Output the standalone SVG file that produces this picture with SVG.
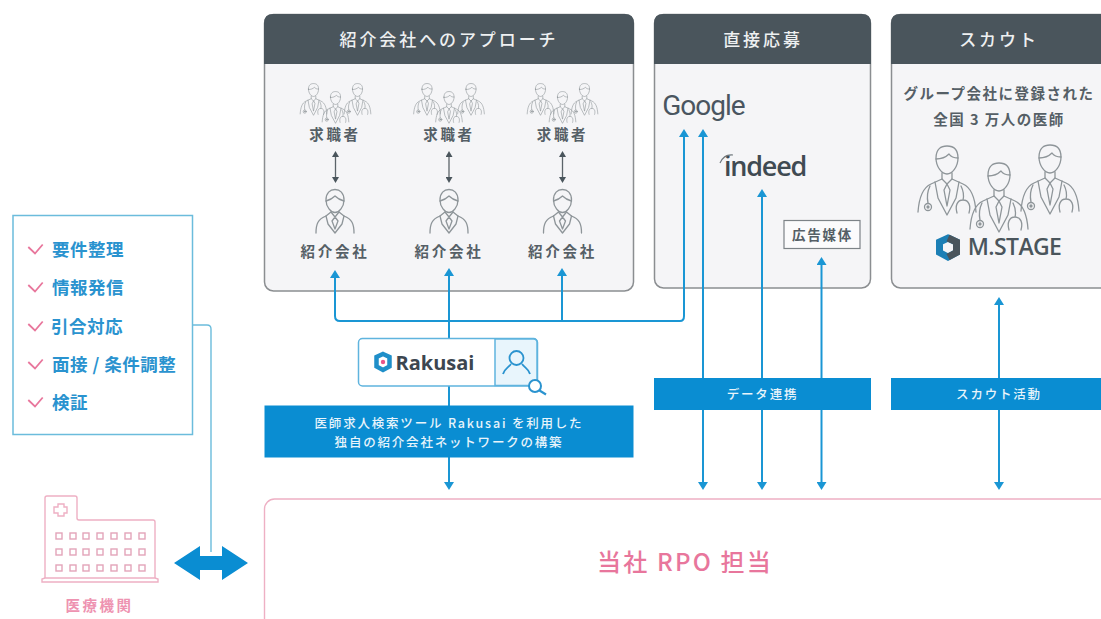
<svg xmlns="http://www.w3.org/2000/svg" xmlns:xlink="http://www.w3.org/1999/xlink" width="1101" height="619" viewBox="0 0 1101 619">
<style>
text{font-family:"Noto Sans CJK JP","Noto Sans",sans-serif;text-anchor:middle}
.body{fill:#f5f5f7;stroke:#8b8e91;stroke-width:1.5}
.head{fill:#4a555c}
.ht{fill:#eef0f1;font-size:17px;letter-spacing:2.9px;font-weight:500}
.lb{fill:#555f66;font-size:14.5px;letter-spacing:2.7px;font-weight:700}
.band{fill:#0a8dd2}
.bt{fill:#e8f4fb;font-size:12.5px;letter-spacing:1.8px;font-weight:500}
.blue{fill:none;stroke:#1a96d4;stroke-width:2}
.gray{fill:none;stroke:#5b6369;stroke-width:1.3}
.ic{fill:none;stroke:#8e9599;stroke-width:1.3;stroke-linejoin:round;stroke-linecap:round}
.chk{fill:none;stroke:#e8769c;stroke-width:1.8}
.li{fill:#2a93cf;font-size:17.5px;letter-spacing:.5px;font-weight:700;text-anchor:start}
.win{fill:none;stroke:#e3a4b9;stroke-width:1.4}
.pk{fill:none;stroke:#eeb0c4;stroke-width:1.4}
</style>
<defs>
<marker id="ab" viewBox="0 0 8 10" refX="1" refY="5" markerWidth="8" markerHeight="10" markerUnits="userSpaceOnUse" orient="auto-start-reverse"><path d="M0,0L8,5L0,10Z" fill="#1a96d4"/></marker>
<marker id="ag" viewBox="0 0 6 7" refX="1" refY="3.5" markerWidth="6" markerHeight="7" markerUnits="userSpaceOnUse" orient="auto-start-reverse"><path d="M0,0L6,3.5L0,7Z" fill="#4a555c"/></marker>
<g id="doc">
<path d="M-11,-2C-11,-11-6,-14 0,-14C6,-14 11,-11 11,-2C11,7 5,14 0,14C-5,14-11,7-11,-2Z"/>
<path d="M-11,-1C-5,-1-1,-3 2,-6C4,-3 7,-2 11,-2"/>
<path d="M-29,52C-28,38-25,28-16,24L-5,19M5,19L16,24C25,28 28,38 29,52"/>
<path d="M-5,13V19L0,24L5,19V13"/>
<path d="M-12,22L-9,38L0,55L9,38L12,22M0,24L-3,30L0,46L3,30Z"/>
<path d="M-17,26C-20,32-20,38-19,43"/><circle cx="-19" cy="47" r="3.5"/><circle cx="-19" cy="47" r="1" fill="#8e9599"/>
<path d="M14,26C17,32 17,36 16,40M10,53C8,46 10,40 16,40C22,40 24,46 22,53"/>
</g>
<g id="group">
<use xlink:href="#doc" transform="translate(-22,-8) scale(.46)"/>
<use xlink:href="#doc" transform="translate(22,-8) scale(.46)"/>
<use xlink:href="#doc" transform="scale(.46)"/>
</g>
<g id="agent">
<path d="M-9,-1C-9,-8-5,-11.500 0,-11.500C5,-11.500 9,-8 9,-1C9,6 4,11.500 0,11.500C-4,11.500-9,6-9,-1Z"/>
<path d="M-9,0C-5,-1-2,-3 0,-5C2,-3 5,-1 9,0"/>
<path d="M-19,32C-19,23-17,18-9,15L-4,11M4,11L9,15C17,18 19,23 19,32"/>
<path d="M-9,15L-7,23L0,32L7,23L9,15M-4,11L0,16L4,11M0,16L-3,20L0,28L3,20Z"/>
</g>
</defs>
<rect width="1101" height="619" fill="#fff"/>

<g id="card-agency">
<rect class="body" x="264.500" y="14.500" width="369" height="276.500" rx="9"/>
<path class="head" d="M264,64V23Q264,14 273,14H625Q634,14 634,23V64Z"/>
<text class="ht" x="449" y="46">紹介会社へのアプローチ</text>
<g class="ic">
<use xlink:href="#group" x="335.500" y="98"/><use xlink:href="#group" x="449" y="98"/><use xlink:href="#group" x="562.500" y="98"/>
<use xlink:href="#agent" x="335" y="201"/><use xlink:href="#agent" x="449" y="201"/><use xlink:href="#agent" x="562.500" y="201"/>
</g>
<text class="lb" x="335" y="140">求職者</text><text class="lb" x="449" y="140">求職者</text><text class="lb" x="562.500" y="140">求職者</text>
<text class="lb" x="335" y="257">紹介会社</text><text class="lb" x="449" y="257">紹介会社</text><text class="lb" x="562.500" y="257">紹介会社</text>
</g>

<g id="card-direct">
<rect class="body" x="654.500" y="14.500" width="216" height="273.500" rx="9"/>
<path class="head" d="M654,64V23Q654,14 663,14H862Q871,14 871,23V64Z"/>
<text class="ht" x="763" y="46">直接応募</text>
<text x="703.500" y="115" style="font-family:Roboto,sans-serif;font-size:28px;letter-spacing:-1px" fill="#4a5560">Google</text>
<text x="765" y="176" style="font-family:'Open Sans',sans-serif;font-size:27px;font-weight:600;letter-spacing:-1.200px" fill="#3f4a52">indeed</text>
<path fill="none" stroke="#6f777c" stroke-width="1.2" d="M720,163Q724,154 733,155"/>
<rect x="784" y="220.500" width="76" height="28" fill="#fbfbfc" stroke="#7d8387" stroke-width="1.2"/>
<text x="822.500" y="240" style="font-size:13.500px;letter-spacing:1.700px;font-weight:700" fill="#555f66">広告媒体</text>
</g>

<g id="card-scout">
<rect class="body" x="891.500" y="14.500" width="230" height="273.500" rx="9"/>
<path class="head" d="M891,64V23Q891,14 900,14H1110V64Z"/>
<text class="ht" x="999" y="46">スカウト</text>
<text class="lb" x="999" y="99" style="letter-spacing:1.500px">グループ会社に登録された</text>
<text class="lb" x="999" y="125" style="letter-spacing:1.500px">全国 3 万人の医師</text>
<g class="ic">
<use xlink:href="#doc" x="947" y="160"/><use xlink:href="#doc" x="1050" y="159"/><use xlink:href="#doc" x="999" y="177"/>
</g>
<path fill="none" stroke="#1c7fb5" stroke-width="7" d="M948,238L956.500,242V252.500L948,257L939.500,252.500V242Z"/>
<path fill="none" stroke="#4a555c" stroke-width="7" d="M948,238L956.500,242V252.500L948,257"/>
<text x="1014.500" y="255" style="font-family:'Open Sans',sans-serif;font-size:23px;font-weight:600;letter-spacing:-.6px" fill="#4a555c">M.STAGE</text>
</g>

<g id="connectors">
<path class="blue" marker-start="url(#ab)" marker-end="url(#ab)" d="M335,277V316Q335,321 340,321H680Q684,321 684,316V136"/>
<path class="blue" marker-end="url(#ab)" d="M449,340V275"/>
<path class="blue" marker-end="url(#ab)" d="M562,321V275"/>
<path class="blue" marker-end="url(#ab)" d="M449,386V483"/>
<path class="blue" marker-start="url(#ab)" marker-end="url(#ab)" d="M703,136V483"/>
<path class="blue" marker-start="url(#ab)" marker-end="url(#ab)" d="M762,196V483"/>
<path class="blue" marker-start="url(#ab)" marker-end="url(#ab)" d="M821.500,264V483"/>
<path class="blue" marker-start="url(#ab)" marker-end="url(#ab)" d="M999,304V483"/>
<path fill="none" stroke="#6bbcdc" stroke-width="1.4" d="M192,325H207Q211,325 211,329V552"/>
<path fill="#0a8dd2" d="M174,563L200,546V556H222V546L248,563L222,580V570H200V580Z"/>
<path class="gray" marker-start="url(#ag)" marker-end="url(#ag)" d="M335.500,156V178"/>
<path class="gray" marker-start="url(#ag)" marker-end="url(#ag)" d="M449,156V178"/>
<path class="gray" marker-start="url(#ag)" marker-end="url(#ag)" d="M562.500,156V178"/>
</g>

<g id="node-rakusai">
<rect x="358.500" y="338.500" width="179" height="47.500" rx="4" fill="#fff" stroke="#5fb4de" stroke-width="1.500"/>
<path d="M495,339H533.500Q537,339 537,342.500V382.500Q537,385.500 533.500,385.500H495Z" fill="#e8f5fc" stroke="#5fb4de" stroke-width="1.500"/>
<path fill="none" stroke="#1f8fc9" stroke-width="4.500" d="M383,354L389.500,357V366.500L383,370L376.500,366.500V357Z"/>
<circle cx="383" cy="362" r="2.200" fill="#e8558a"/>
<text x="435" y="369.500" style="font-family:'Open Sans',sans-serif;font-size:20px;font-weight:700" fill="#3c4650">Rakusai</text>
<circle cx="516.500" cy="358" r="7" fill="none" stroke="#2a93cf" stroke-width="1.800"/>
<path fill="none" stroke="#2a93cf" stroke-width="1.800" d="M503,374C504,369 508,368 511,364M530,374C529,369 525,368 522,364"/>
<circle cx="535" cy="386" r="6" fill="#fff" stroke="#2a93cf" stroke-width="2"/>
<path fill="none" stroke="#2a93cf" stroke-width="2.200" d="M539.500,390.500L546,394.500"/>
</g>

<g id="band-network">
<rect class="band" x="264.500" y="405.500" width="369" height="52"/>
<text class="bt" x="449" y="428">医師求人検索ツール Rakusai を利用した</text>
<text class="bt" x="449" y="447">独自の紹介会社ネットワークの構築</text>
</g>
<g id="band-data">
<rect class="band" x="654" y="378" width="217" height="32"/>
<text class="bt" x="762.500" y="398.500">データ連携</text>
</g>
<g id="band-scout">
<rect class="band" x="891" y="378" width="210" height="32"/>
<text class="bt" x="999" y="398.500">スカウト活動</text>
</g>

<g id="node-rpo">
<rect x="264.500" y="499" width="900" height="200" rx="10" fill="#fff" stroke="#eeb0c4" stroke-width="1.400"/>
<text x="685" y="571" style="font-size:24px;letter-spacing:2.200px;font-weight:500" fill="#e8769c">当社 RPO 担当</text>
</g>

<g id="node-tasks">
<rect x="13" y="215.500" width="179.500" height="219" fill="#fff" stroke="#6bbcdc" stroke-width="1.500"/>
<path class="chk" d="M28.300,247L35,253.500L42.700,244.500"/><text class="li" x="52" y="256">要件整理</text>
<path class="chk" d="M28.300,285L35,291.500L42.700,282.500"/><text class="li" x="52" y="294">情報発信</text>
<path class="chk" d="M28.300,324L35,330.500L42.700,321.500"/><text class="li" x="51" y="333">引合対応</text>
<path class="chk" d="M28.300,362L35,368.500L42.700,359.500"/><text class="li" x="52" y="371">面接 / 条件調整</text>
<path class="chk" d="M28.300,400L35,406.500L42.700,397.500"/><text class="li" x="52" y="409">検証</text>
</g>

<g id="node-hospital">
<path class="pk" d="M45,578V498Q45,496 47,496H75Q77,496 77,498V518Q77,520 79,520H153Q155,520 155,522V578"/>
<path class="pk" d="M42,579V582H158V579L155,578H45Z"/>
<path class="pk" d="M58,504H64V507H67V513H64V516H58V513H54V507H58Z"/>
<g class="win">
<rect x="56" y="533" width="6" height="6"/><rect x="70" y="533" width="6" height="6"/><rect x="83" y="533" width="6" height="6"/><rect x="97" y="533" width="6" height="6"/><rect x="111" y="533" width="6" height="6"/><rect x="125" y="533" width="6" height="6"/><rect x="139" y="533" width="6" height="6"/>
<rect x="56" y="549" width="6" height="6"/><rect x="70" y="549" width="6" height="6"/><rect x="83" y="549" width="6" height="6"/><rect x="97" y="549" width="6" height="6"/><rect x="111" y="549" width="6" height="6"/><rect x="125" y="549" width="6" height="6"/><rect x="139" y="549" width="6" height="6"/>
<rect x="56" y="565" width="6" height="6"/><rect x="70" y="565" width="6" height="6"/><rect x="83" y="565" width="6" height="6"/><rect x="97" y="565" width="6" height="6"/><rect x="111" y="565" width="6" height="6"/><rect x="125" y="565" width="6" height="6"/><rect x="139" y="565" width="6" height="6"/>
</g>
<text x="99.500" y="611" style="font-size:14.500px;letter-spacing:2.500px;font-weight:700" fill="#ee93b1">医療機関</text>
</g>
</svg>
